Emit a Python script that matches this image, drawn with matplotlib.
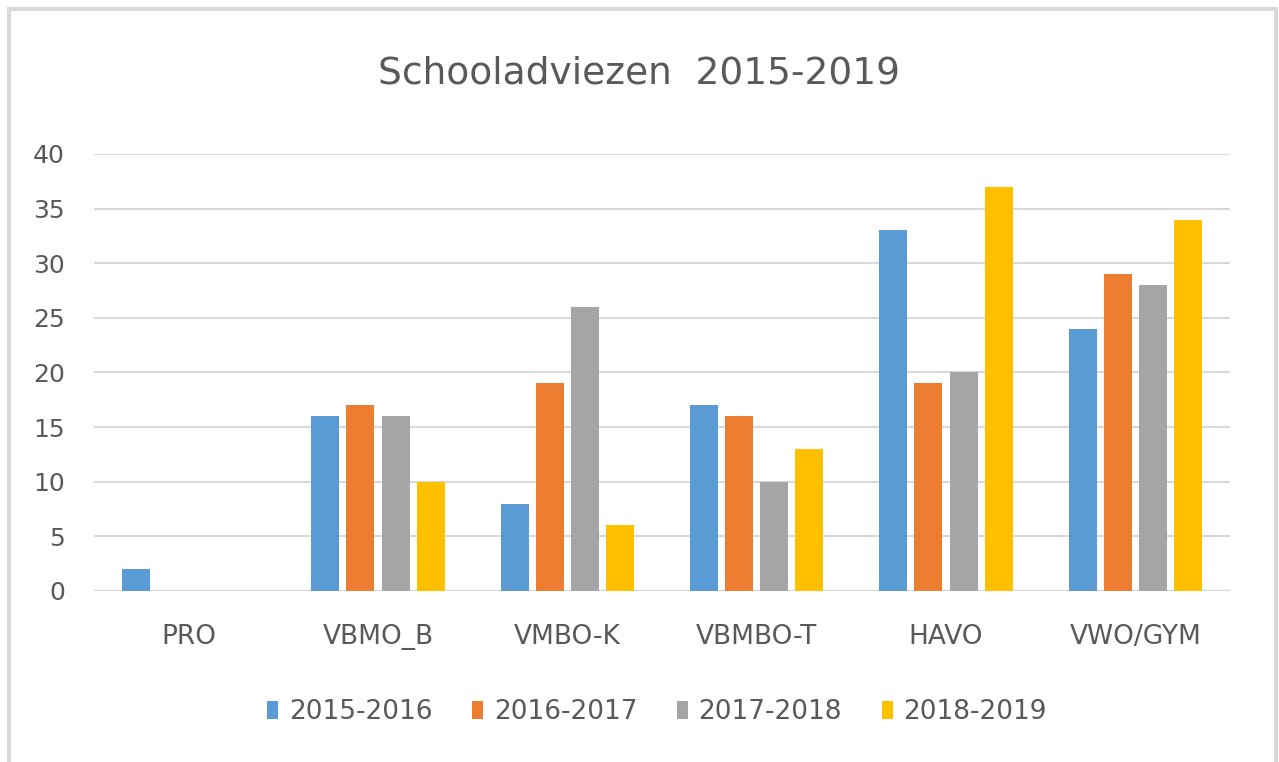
import numpy as np
import matplotlib.pyplot as plt
from matplotlib.patches import Rectangle

# schooladviezen per jaar
categorieen = ["PRO", "VBMO_B", "VMBO-K", "VBMBO-T", "HAVO", "VWO/GYM"]
jaren = ["2015-2016", "2016-2017", "2017-2018", "2018-2019"]
w2015 = [2, 16, 8, 17, 33, 24]
w2016 = [0, 17, 19, 16, 19, 29]
w2017 = [0, 16, 26, 10, 20, 28]
w2018 = [0, 10, 6, 13, 37, 34]
kleuren = ["#5b9bd5", "#ed7d31", "#a5a5a5", "#ffc000"]

tekst = "#595959"

fig = plt.figure(figsize=(12.79, 7.62), dpi=100)
# lichtgrijze rand om de grafiek
fig.patches.append(Rectangle((9 / 1279, -0.01), 1267 / 1279, 1 - 9 / 762 + 0.01,
                             transform=fig.transFigure, fill=False,
                             edgecolor="#d9d9d9", linewidth=3))

ax = fig.add_axes([94 / 1279, 1 - 591 / 762, 1136 / 1279, 437 / 762])

x = np.arange(len(categorieen))
bw = 0.148
stap = 0.185
reeksen = [w2015, w2016, w2017, w2018]
for i, (waarden, jaar, kleur) in enumerate(zip(reeksen, jaren, kleuren)):
    ax.bar(x + (i - 1.5) * stap, waarden, width=bw, color=kleur, label=jaar, zorder=3)

ax.set_xlim(-0.5, len(categorieen) - 0.5)
ax.set_ylim(0, 40)
ax.set_yticks(range(0, 41, 5))
ax.yaxis.grid(True, color="#d9d9d9", linewidth=1.5, zorder=0)
ax.axhline(0, color="#d9d9d9", linewidth=2.5, zorder=2)
for s in ax.spines.values():
    s.set_visible(False)
ax.tick_params(axis="both", length=0, labelcolor=tekst)
ax.tick_params(axis="y", pad=21, labelsize=18)
ax.tick_params(axis="x", pad=24, labelsize=19)
ax.set_xticks(x)
ax.set_xticklabels(categorieen)

fig.text(0.5, 1 - 73 / 762, "Schooladviezen  2015-2019", ha="center", va="center",
         fontsize=27, color=tekst)

ax.legend(loc="center", bbox_to_anchor=(657 / 1279, 1 - 712 / 762), bbox_transform=fig.transFigure,
          ncol=4, frameon=False, fontsize=19, labelcolor=tekst, handlelength=0.42,
          handleheight=0.7, handletextpad=0.4, columnspacing=1.5)

fig.savefig("out.png", dpi=100)
